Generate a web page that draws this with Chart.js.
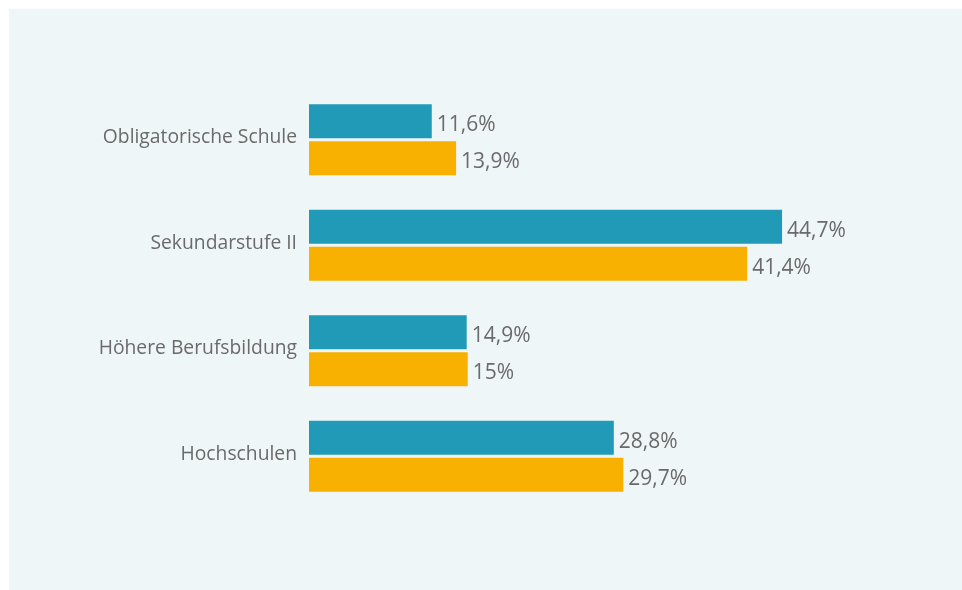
<!DOCTYPE html>
<html>
<head>
<meta charset="utf-8">
<script src="https://cdn.jsdelivr.net/npm/chart.js@4/dist/chart.umd.min.js"></script>
<style>
    html, body { margin: 0; padding: 0; background: #ffffff; }
    #wrap { width: 962px; height: 590px; position: relative; }
</style>
</head>
<body>
<div id="wrap"><canvas id="eduChart"></canvas></div>
<script>
const categories = ['Obligatorische Schule', 'Sekundarstufe II', 'Höhere Berufsbildung', 'Hochschulen'];
const seriesA = [11.6, 44.7, 14.9, 28.8];
const seriesB = [13.9, 41.4, 15.0, 29.7];
const seriesLabels = ['Reihe 1', 'Reihe 2'];

const fmt = v => String(v).replace('.', ',') + '%';

// light panel behind the chart
const panelBg = {
    id: 'panelBg',
    beforeDraw(chart) {
        const ctx = chart.ctx;
        ctx.save();
        ctx.fillStyle = '#eff6f8';
        ctx.fillRect(9, 9, chart.width - 9, chart.height - 9);
        ctx.restore();
    }
};

// value text at the end of each bar
const valueLabels = {
    id: 'valueLabels',
    afterDatasetsDraw(chart) {
        const ctx = chart.ctx;
        ctx.save();
        ctx.font = '21px "Open Sans", sans-serif';
        ctx.fillStyle = '#6a6a6a';
        ctx.textAlign = 'left';
        ctx.textBaseline = 'middle';
        chart.data.datasets.forEach((ds, i) => {
            chart.getDatasetMeta(i).data.forEach((bar, j) => {
                ctx.fillText(fmt(ds.data[j]), bar.x + 5, bar.y + 4);
            });
        });
        ctx.restore();
    }
};

const ctx = document.getElementById('eduChart').getContext('2d');
new Chart(ctx, {
    type: 'bar',
    data: {
        labels: categories,
        datasets: [{
            label: seriesLabels[0],
            data: seriesA,
            backgroundColor: '#219ab8',
            categoryPercentage: 0.70,
            barPercentage: 0.92
        }, {
            label: seriesLabels[1],
            data: seriesB,
            backgroundColor: '#f8b100',
            categoryPercentage: 0.70,
            barPercentage: 0.92
        }]
    },
    options: {
        indexAxis: 'y',
        responsive: true,
        maintainAspectRatio: false,
        animation: false,
        layout: {
            padding: { left: 0, right: 18, top: 87, bottom: 81 }
        },
        plugins: {
            legend: { display: false },
            tooltip: { enabled: false }
        },
        scales: {
            x: {
                display: false,
                min: 0,
                max: 60
            },
            y: {
                grid: { display: false },
                border: { display: false },
                ticks: {
                    padding: 4,
                    labelOffset: -2,
                    color: '#6a6a6a',
                    font: { family: '"Open Sans", sans-serif', size: 19.3 }
                },
                afterFit(scale) {
                    scale.width = 309;
                }
            }
        }
    },
    plugins: [panelBg, valueLabels]
});
</script>
</body>
</html>
